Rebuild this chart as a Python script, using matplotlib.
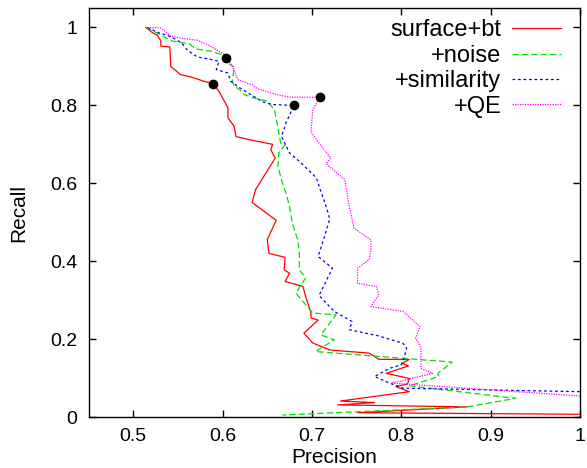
import matplotlib
matplotlib.use("Agg")
import matplotlib.pyplot as plt

plt.rcParams['font.family'] = ['Liberation Sans', 'DejaVu Sans']

series_labels = ["surface+bt", "+noise", "+similarity", "+QE"]

bt_precision = [0.514, 0.522, 0.527, 0.531, 0.531, 0.541, 0.542, 0.553, 0.566, 0.579,
                0.589, 0.596, 0.606, 0.606, 0.613, 0.615, 0.630, 0.656, 0.654, 0.659,
                0.637, 0.633, 0.660, 0.650, 0.652, 0.670, 0.669, 0.675, 0.670, 0.690,
                0.693, 0.699, 0.699, 0.707, 0.691, 0.701, 0.720, 0.764, 0.775, 0.809,
                0.801, 0.808, 0.783, 0.809, 0.807, 0.794, 0.809, 0.732, 0.770, 0.729,
                0.874, 0.751, 1.000]
bt_recall = [1.000, 0.986, 0.980, 0.965, 0.952, 0.950, 0.900, 0.879, 0.872, 0.862,
             0.856, 0.836, 0.794, 0.768, 0.746, 0.720, 0.712, 0.700, 0.686, 0.665,
             0.584, 0.551, 0.505, 0.455, 0.420, 0.410, 0.378, 0.369, 0.348, 0.335,
             0.309, 0.267, 0.254, 0.249, 0.215, 0.190, 0.172, 0.164, 0.148, 0.148,
             0.138, 0.131, 0.112, 0.099, 0.085, 0.078, 0.065, 0.041, 0.037, 0.031,
             0.026, 0.011, 0.007]

noise_precision = [0.514, 0.520, 0.535, 0.544, 0.563, 0.570, 0.587, 0.598, 0.604, 0.607,
                   0.613, 0.611, 0.613, 0.619, 0.624, 0.635, 0.650, 0.658, 0.662, 0.665,
                   0.670, 0.663, 0.662, 0.667, 0.671, 0.675, 0.678, 0.684, 0.686, 0.686,
                   0.693, 0.682, 0.701, 0.727, 0.710, 0.725, 0.704, 0.857, 0.841, 0.842,
                   0.809, 0.928, 0.874, 0.667]
noise_recall = [1.000, 0.994, 0.975, 0.965, 0.958, 0.945, 0.939, 0.931, 0.921, 0.907,
                0.898, 0.862, 0.849, 0.841, 0.828, 0.819, 0.811, 0.789, 0.742, 0.703,
                0.699, 0.678, 0.643, 0.600, 0.575, 0.540, 0.498, 0.455, 0.425, 0.378,
                0.357, 0.318, 0.267, 0.262, 0.211, 0.198, 0.168, 0.141, 0.112, 0.104,
                0.080, 0.048, 0.026, 0.005]

sim_precision = [0.516, 0.529, 0.538, 0.548, 0.555, 0.561, 0.572, 0.585, 0.596, 0.593,
                 0.606, 0.609, 0.615, 0.622, 0.635, 0.645, 0.656, 0.680, 0.671, 0.666,
                 0.675, 0.688, 0.705, 0.710, 0.716, 0.720, 0.714, 0.707, 0.723, 0.708,
                 0.725, 0.745, 0.742, 0.775, 0.802, 0.806, 0.803, 0.800, 0.787, 0.770,
                 0.787, 0.802, 1.000]
sim_recall = [1.000, 0.986, 0.980, 0.969, 0.958, 0.941, 0.924, 0.919, 0.913, 0.892,
              0.883, 0.862, 0.852, 0.841, 0.823, 0.809, 0.802, 0.800, 0.755, 0.720,
              0.678, 0.652, 0.614, 0.579, 0.540, 0.508, 0.463, 0.412, 0.382, 0.312,
              0.271, 0.245, 0.224, 0.208, 0.189, 0.177, 0.151, 0.134, 0.125, 0.104,
              0.087, 0.074, 0.065]

qe_precision = [0.516, 0.531, 0.542, 0.555, 0.572, 0.585, 0.596, 0.602, 0.611, 0.617,
                0.633, 0.639, 0.660, 0.675, 0.709, 0.701, 0.699, 0.708, 0.721, 0.716,
                0.737, 0.740, 0.747, 0.766, 0.766, 0.764, 0.751, 0.751, 0.772, 0.775,
                0.766, 0.802, 0.821, 0.816, 0.822, 0.822, 0.835, 0.789, 1.000]
qe_recall = [1.000, 0.999, 0.978, 0.972, 0.967, 0.954, 0.939, 0.931, 0.901, 0.866,
             0.853, 0.843, 0.828, 0.821, 0.821, 0.789, 0.733, 0.703, 0.665, 0.650,
             0.609, 0.562, 0.485, 0.455, 0.430, 0.404, 0.382, 0.343, 0.335, 0.314,
             0.284, 0.271, 0.232, 0.202, 0.181, 0.125, 0.112, 0.087, 0.054]

dot_precision = [0.589, 0.604, 0.680, 0.709]
dot_recall = [0.856, 0.921, 0.800, 0.821]

x_ticks = [0.5, 0.6, 0.7, 0.8, 0.9, 1.0]
x_ticklabels = ["0.5", "0.6", "0.7", "0.8", "0.9", "1"]
y_ticks = [0, 0.2, 0.4, 0.6, 0.8, 1.0]
y_ticklabels = ["0", "0.2", "0.4", "0.6", "0.8", "1"]

fig = plt.figure(figsize=(5.87, 4.68), dpi=100)
ax = fig.add_axes([88.5/587, 1 - 417/468, (580 - 88.5)/587, (417 - 8)/468])

ax.plot(bt_precision, bt_recall, color="#ff0000", lw=0.9, label=series_labels[0])
ax.plot(noise_precision, noise_recall, color="#00e000", lw=0.9, dashes=(5, 2.5),
        label=series_labels[1])
ax.plot(sim_precision, sim_recall, color="#0000ff", lw=0.9, dashes=(2.2, 2.2),
        label=series_labels[2])
ax.plot(qe_precision, qe_recall, color="#ff00ff", lw=0.9, dashes=(1.0, 1.0),
        label=series_labels[3])
ax.plot(dot_precision, dot_recall, linestyle="none", marker="o", color="black",
        markersize=6)

ax.set_xlim(0.45, 1.0)
ax.set_ylim(0, 1.05)
ax.set_xticks(x_ticks)
ax.set_xticklabels(x_ticklabels)
ax.set_yticks(y_ticks)
ax.set_yticklabels(y_ticklabels)
ax.tick_params(direction="in", length=5, width=1, top=True, right=True,
               labelsize=14, pad=8)
for s in ax.spines.values():
    s.set_linewidth(1.0)

ax.set_xlabel("Precision", fontsize=15, labelpad=2)
ax.set_ylabel("Recall", fontsize=15, labelpad=16)

leg = ax.legend(loc="upper right", bbox_to_anchor=(0.961, 0.972), markerfirst=False,
                frameon=False, fontsize=17, handlelength=2.05, handletextpad=0.47,
                labelspacing=0.145, borderpad=0, borderaxespad=0)

fig.savefig("out.png", dpi=100)
